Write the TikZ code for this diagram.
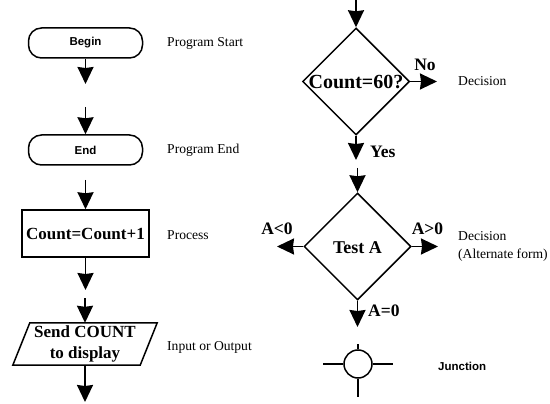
\documentclass[tikz,border=0pt]{standalone}
\usepackage{fontspec}
\setmainfont{Liberation Serif}
\setsansfont{Liberation Sans}
\usetikzlibrary{arrows.meta,shapes.geometric}
\begin{document}
\begin{tikzpicture}[x=1pt,y=-1pt,
  arr/.style={line width=1.7pt,-{Stealth[length=17pt,width=16pt,inset=1pt]}},
  shp/.style={draw,line width=1.5pt},
  term/.style={shp,rounded corners=13pt,minimum width=114pt,minimum height=30pt,inner sep=0pt,font=\sffamily\bfseries\fontsize{11.5}{13}\selectfont},
  proc/.style={shp,minimum width=127pt,minimum height=47pt,inner sep=0pt,font=\bfseries\fontsize{17}{20}\selectfont},
  dec/.style={shp,diamond,minimum width=107pt,minimum height=107pt,inner sep=0pt},
  lbl/.style={anchor=west,inner sep=0pt,font=\fontsize{13.6}{15}\selectfont},
  blbl/.style={inner sep=0pt,font=\bfseries\fontsize{17.5}{20}\selectfont},
  jlbl/.style={anchor=west,inner sep=0pt,font=\sffamily\bfseries\fontsize{11.5}{13}\selectfont}]
\useasboundingbox (0,0) rectangle (550,404);
\fill[white] (0,0) rectangle (550,404);
% left column
\node[term] (begin) at (85.5,43) {Begin};
\coordinate (a1) at (85.5,84);
\draw[arr] (begin.south) -- (a1);
\coordinate (a2) at (85.5,107);
\node[term] (end) at (85.5,150) {End};
\draw[arr] (a2) -- (end.north);
\coordinate (a3) at (85.5,180);
\node[proc] (proc) at (85.5,233.5) {Count=Count+1};
\draw[arr] (a3) -- (proc.north);
\coordinate (a4) at (85.5,290);
\draw[arr] (proc.south) -- (a4);
\coordinate (a5) at (85,298);
\node[minimum width=127pt,minimum height=42pt,inner sep=0pt,align=center,font=\bfseries\fontsize{17}{21}\selectfont] (io) at (85,344) {Send COUNT\\to display};
\draw[shp] ([xshift=8.5pt]io.north west) -- ([xshift=8.5pt]io.north east) -- ([xshift=-8.5pt]io.south east) -- ([xshift=-8.5pt]io.south west) -- cycle;
\draw[arr] (a5) -- (io.north);
\coordinate (a6) at (85,402);
\draw[arr] (io.south) -- (a6);
\node[lbl] (l1) at (167,43) {Program Start};
\node[lbl] (l2) at (167,150) {Program End};
\node[lbl] (l3) at (167,235) {Process};
\node[lbl] (l4) at (167,347) {Input or Output};
% right column
\coordinate (r0) at (356,0);
\node[dec] (d1) at (356,81.5) {};
\node[inner sep=0pt,font=\bfseries\fontsize{20}{22}\selectfont] (d1t) at (356,82) {Count=60?};
\draw[arr] (r0) -- (d1.north);
\coordinate (no) at (437,81.5);
\draw[arr] (d1.east) -- (no);
\node[blbl] (nol) at (425,65) {No};
\coordinate (yes) at (356,160);
\draw[arr] (d1.south) -- (yes);
\node[blbl,anchor=west] (yesl) at (370,152) {Yes};
\node[lbl] (l5) at (458,81) {Decision};
\coordinate (r2) at (357.5,168);
\node[dec] (d2) at (357.5,246.5) {};
\node[inner sep=0pt,font=\bfseries\fontsize{18}{20}\selectfont] (d2t) at (357.5,248) {Test A};
\draw[arr] (r2) -- (d2.north);
\coordinate (lt) at (277,246.5);
\draw[arr] (d2.west) -- (lt);
\coordinate (rt) at (438,246.5);
\draw[arr] (d2.east) -- (rt);
\coordinate (bt) at (357.5,327);
\draw[arr] (d2.south) -- (bt);
\node[blbl] (ltl) at (277,229) {A<0};
\node[blbl] (rtl) at (427.5,229) {A>0};
\node[blbl,anchor=west] (btl) at (368,311) {A=0};
\node[lbl] (l6) at (458,236) {Decision};
\node[lbl] (l7) at (458,255) {(Alternate form)};
% junction
\node[shp,circle,minimum size=28pt,inner sep=0pt] (j) at (358,364) {};
\coordinate (jl) at (323,364);
\coordinate (jr) at (393,364);
\coordinate (jt) at (358,344);
\coordinate (jb) at (358,397);
\draw[shp] (jl) -- (j.west);
\draw[shp] (j.east) -- (jr);
\draw[shp] (jt) -- (j.north);
\draw[shp] (j.south) -- (jb);
\node[jlbl] (jlab) at (438,366) {Junction};
\end{tikzpicture}
\end{document}
